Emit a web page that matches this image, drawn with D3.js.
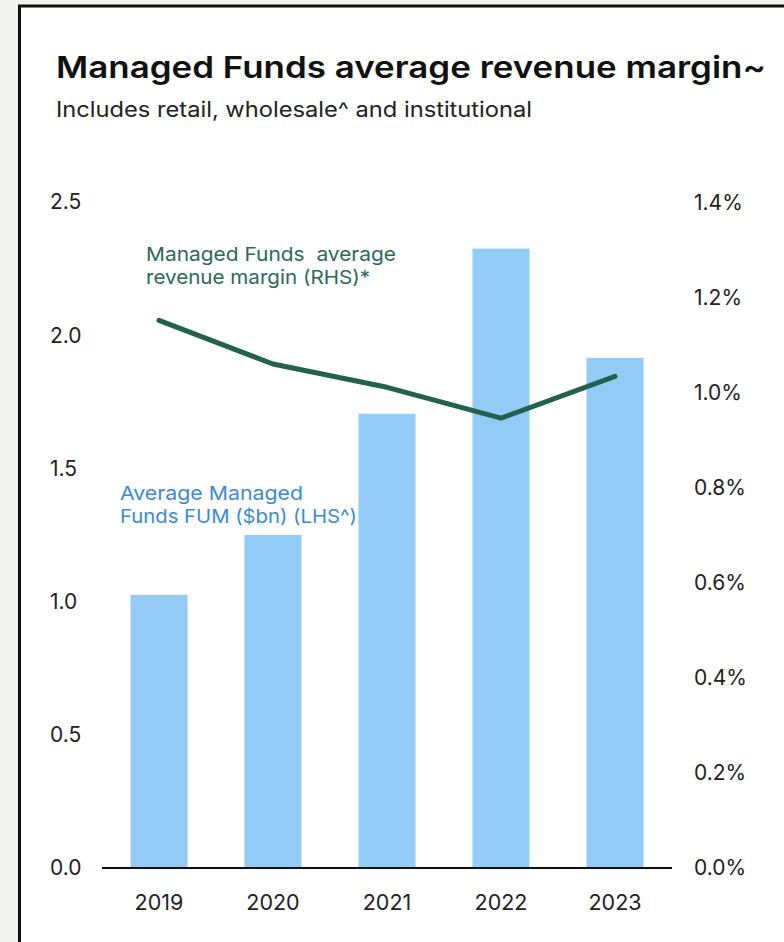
<!DOCTYPE html>
<html>
<head>
<meta charset="utf-8">
<script src="https://cdn.jsdelivr.net/npm/d3@7"></script>
<style>
  html, body { margin: 0; padding: 0; background: #f2f2ee; }
  svg { display: block; }
</style>
</head>
<body>
<svg id="chart" width="784" height="942"></svg>
<script>
// chart data
const years = ["2019", "2020", "2021", "2022", "2023"];
const fumValues = [1.025, 1.25, 1.705, 2.325, 1.915];      // $bn, LHS
const marginValues = [1.153, 1.061, 1.012, 0.947, 1.035];  // %, RHS
const leftTicks = [0, 0.5, 1.0, 1.5, 2.0, 2.5];
const rightTicks = [0, 0.2, 0.4, 0.6, 0.8, 1.0, 1.2, 1.4];

const FONT = "Inter, 'Liberation Sans', Arial, sans-serif";
const svg = d3.select("#chart");

// card
svg.append("rect").attr("x", 19.5).attr("y", 6).attr("width", 800).attr("height", 1000)
    .attr("fill", "#fff").attr("stroke", "#111").attr("stroke-width", 3);

// title + subtitle (reference face is wider than Inter, so stretch to its width)
svg.append("text").attr("x", 56).attr("y", 78)
    .attr("font-family", FONT).attr("font-size", 30).attr("font-weight", 600).attr("fill", "#111")
    .attr("textLength", 710).attr("lengthAdjust", "spacingAndGlyphs")
    .text("Managed Funds average revenue margin~");
svg.append("text").attr("x", 56).attr("y", 117)
    .attr("font-family", FONT).attr("font-size", 21).attr("fill", "#222")
    .attr("textLength", 476).attr("lengthAdjust", "spacingAndGlyphs")
    .text("Includes retail, wholesale^ and institutional");

const x = d3.scaleBand().domain(years).range([102, 672]).paddingInner(0.5).paddingOuter(0.25);
const yL = d3.scaleLinear().domain([0, 2.5]).range([868, 202]);
const yR = d3.scaleLinear().domain([0, 1.4]).range([868, 203]);

// bars
svg.append("g").selectAll("rect").data(years).enter().append("rect")
    .attr("x", d => x(d))
    .attr("width", x.bandwidth())
    .attr("y", (d, i) => yL(fumValues[i]))
    .attr("height", (d, i) => yL(0) - yL(fumValues[i]))
    .attr("fill", "#92cbf6");

// baseline
svg.append("line").attr("x1", 102).attr("x2", 672).attr("y1", yL(0)).attr("y2", yL(0))
    .attr("stroke", "#111").attr("stroke-width", 2);

// left axis labels
svg.append("g").selectAll("text").data(leftTicks).enter().append("text")
    .attr("x", 50).attr("y", d => yL(d)).attr("dy", "0.35em")
    .attr("font-family", FONT).attr("font-size", 21).attr("fill", "#222")
    .text(d => d3.format(".1f")(d));

// right axis labels
svg.append("g").selectAll("text").data(rightTicks).enter().append("text")
    .attr("x", 694).attr("y", d => yR(d)).attr("dy", "0.35em")
    .attr("font-family", FONT).attr("font-size", 21).attr("fill", "#222")
    .text(d => d3.format(".1f")(d) + "%");

// x labels
svg.append("g").selectAll("text").data(years).enter().append("text")
    .attr("x", d => x(d) + x.bandwidth() / 2).attr("y", 910)
    .attr("text-anchor", "middle")
    .attr("font-family", FONT).attr("font-size", 21.5).attr("fill", "#222")
    .text(d => d);

// margin line
const line = d3.line()
    .x((d, i) => x(years[i]) + x.bandwidth() / 2)
    .y(d => yR(d));
svg.append("path").datum(marginValues).attr("d", line)
    .attr("fill", "none").attr("stroke", "#23614f").attr("stroke-width", 5)
    .attr("stroke-linecap", "round").attr("stroke-linejoin", "round");

// series labels, one text per line
function label(lines, x0, y0, gap, color, widths) {
    lines.forEach((t, i) => {
        svg.append("text").attr("x", x0).attr("y", y0 + i * gap)
            .attr("font-family", FONT).attr("font-size", 19).attr("fill", color)
            .attr("textLength", widths[i]).attr("lengthAdjust", "spacingAndGlyphs")
            .text(t);
    });
}
label(["Managed Funds\u00a0 average", "revenue margin (RHS)*"], 146, 261, 23, "#2a6a58", [250, 224]);
label(["Average Managed", "Funds FUM ($bn) (LHS^)"], 120, 500, 23, "#3a8bd8", [183, 237]);
</script>
</body>
</html>
